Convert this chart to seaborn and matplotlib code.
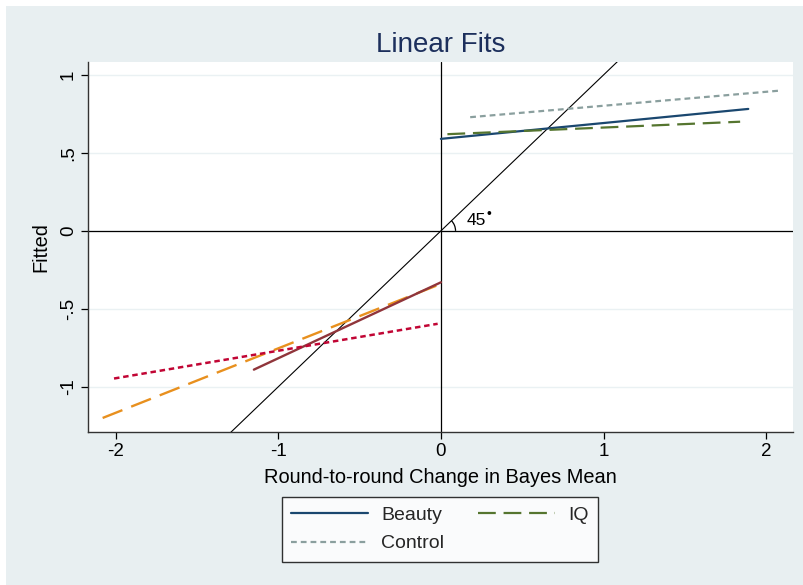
import matplotlib
matplotlib.use("Agg")
import matplotlib.pyplot as plt
from matplotlib.patches import Arc, Rectangle
from matplotlib.lines import Line2D
import seaborn as sns
import pandas as pd

sns.set_theme(style="white")
plt.rcParams['font.family'] = ['Liberation Sans', 'DejaVu Sans']

# ---- data (fitted line endpoints) ----
beauty_x = [0.0, 1.89]
beauty_y = [0.59, 0.782]
iq_x = [0.04, 1.84]
iq_y = [0.62, 0.70]
control_x = [0.18, 2.09]
control_y = [0.729, 0.90]
neg_orange_x = [-2.08, 0.0]
neg_orange_y = [-1.20, -0.34]
neg_maroon_x = [-1.15, 0.0]
neg_maroon_y = [-0.89, -0.33]
neg_red_x = [-2.01, -0.02]
neg_red_y = [-0.947, -0.596]

xticks = [-2, -1, 0, 1, 2]
xticklabels = ["-2", "-1", "0", "1", "2"]
yticks = [-1, -0.5, 0, 0.5, 1]
yticklabels = ["-1", "-.5", "0", ".5", "1"]

BG = "#e8eff1"
fig = plt.figure(figsize=(8.04, 5.85), dpi=100, facecolor="white")
fig.patches.append(Rectangle((6/804, 0), 1, 1 - 6/585, transform=fig.transFigure,
                             facecolor=BG, edgecolor="none", zorder=-10))
ax = fig.add_axes([88/804, 1 - 432/585, (793-88)/804, (432-62)/585])
ax.set_facecolor("white")
ax.set_xlim(-2.17, 2.165)
ax.set_ylim(-1.29, 1.083)

for y in yticks:
    ax.axhline(y, color="#eaf1f3", lw=1.0, zorder=0)

# reference lines
ax.axvline(0, color="black", lw=0.9, zorder=2)
ax.axhline(0, color="black", lw=0.9, zorder=2)
ax.plot([-2.5, 2.5], [-2.5, 2.5], color="black", lw=0.8, zorder=2)
ax.add_patch(Arc((0, 0), 2*0.09, 2*0.094, theta1=0, theta2=45, color="black", lw=0.9))
ax.text(0.16, 0.065, "45", fontsize=12.5, va="center", ha="left", color="black")
ax.text(0.283, 0.105, "•", fontsize=10, va="center", ha="left", color="black")

series = [
    ("Beauty", beauty_x, beauty_y, "#1a476f", "-", 1.6),
    ("IQ", iq_x, iq_y, "#55752f", (0, (8, 3.5)), 1.6),
    ("Control", control_x, control_y, "#8a9f9e", (0, (2.6, 1.8)), 1.6),
    (None, neg_orange_x, neg_orange_y, "#e8901e", (0, (9, 4)), 1.7),
    (None, neg_maroon_x, neg_maroon_y, "#90353b", "-", 1.7),
    (None, neg_red_x, neg_red_y, "#c10534", (0, (2.2, 1.5)), 1.8),
]
for name, xs, ys, col, ls, lw in series:
    df = pd.DataFrame({"x": xs, "y": ys})
    sns.lineplot(data=df, x="x", y="y", ax=ax, color=col, linestyle=ls, lw=lw, zorder=3)

ax.set_xticks(xticks)
ax.set_xticklabels(xticklabels)
ax.set_yticks(yticks)
ax.set_yticklabels(yticklabels, rotation=90, va="center")
ax.tick_params(axis="both", direction="out", length=5, width=0.9, color="black",
               labelsize=13.5, labelcolor="black", bottom=True, left=True, pad=3)
for s in ["top", "right"]:
    ax.spines[s].set_visible(False)
for s in ["left", "bottom"]:
    ax.spines[s].set_color("#333333")
    ax.spines[s].set_linewidth(1.0)

ax.set_xlabel("Round-to-round Change in Bayes Mean", fontsize=14.4, color="black", labelpad=6)
ax.set_ylabel("Fitted", fontsize=14.4, color="black", labelpad=7)
ax.set_title("Linear Fits", fontsize=20, color="#1c2f5c", pad=7)

handles = [
    Line2D([], [], color="#1a476f", lw=1.6, linestyle="-"),
    Line2D([], [], color="#8a9f9e", lw=1.6, linestyle=(0, (2.6, 1.8))),
    Line2D([], [], color="#55752f", lw=1.6, linestyle=(0, (8, 3.5))),
]
labels = ["Beauty", "Control", "IQ"]
leg = fig.legend(handles, labels, loc="center", bbox_to_anchor=(440/804, 1 - 529.5/585),
                 ncol=2, fontsize=14, frameon=True, fancybox=False, handlelength=3.95,
                 columnspacing=1.75, handletextpad=0.67, borderpad=0.5, labelspacing=0.55,
                 borderaxespad=0)
leg.get_frame().set_edgecolor("black")
leg.get_frame().set_linewidth(1.0)
leg.get_frame().set_facecolor("white")

fig.savefig("out.png", dpi=100, facecolor=fig.get_facecolor())
